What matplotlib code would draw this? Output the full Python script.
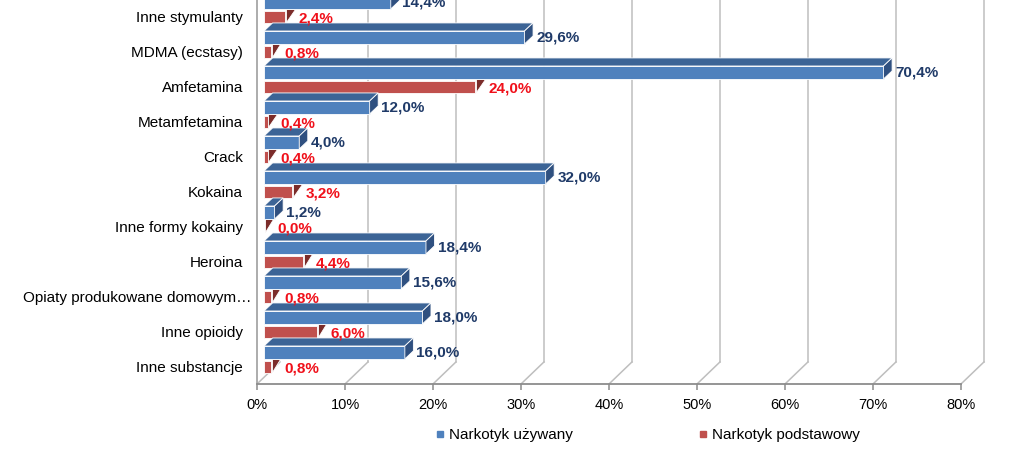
import matplotlib
matplotlib.use("Agg")
import matplotlib.pyplot as plt
from matplotlib.patches import Polygon
from matplotlib.lines import Line2D
from matplotlib.transforms import ScaledTranslation

plt.rcParams['font.family'] = ['Liberation Sans', 'DejaVu Sans']

# data, bottom to top
categories = ["Inne substancje", "Inne opioidy", "Opiaty produkowane domowym…",
              "Heroina", "Inne formy kokainy", "Kokaina", "Crack",
              "Metamfetamina", "Amfetamina", "MDMA (ecstasy)", "Inne stymulanty"]
used = [16.0, 18.0, 15.6, 18.4, 1.2, 32.0, 4.0, 12.0, 70.4, 29.6, 14.4]
primary = [0.8, 6.0, 0.8, 4.4, 0.0, 3.2, 0.4, 0.4, 24.0, 0.8, 2.4]
series_names = ["Narkotyk używany", "Narkotyk podstawowy"]
xticks = [0, 10, 20, 30, 40, 50, 60, 70, 80]

BLUE, BLUE_TOP, BLUE_SIDE = "#4F81BD", "#3C6496", "#2F5080"
RED, RED_SIDE = "#C0504D", "#7B2C2A"
BLUE_TXT, RED_TXT = "#1F3A68", "#F0101A"
GRID = "#BEBEBE"

# 3d look: wall depth and bar depth (x in %, y in category units)
WALL_DX, WALL_DY = 2.61, 0.63
BAR_DX, BAR_DY = 0.97, 0.23
X0 = 0.8          # bars sit a little inside the wall
Y_AXIS = -0.486

fig = plt.figure(figsize=(10.24, 4.65), dpi=100)
ax = fig.add_axes([257 / 1024, 81 / 465, 84 * 8.8 / 1024, 384 / 465])
ax.set_xlim(0, 84)
ax.set_ylim(Y_AXIS, Y_AXIS + 384 / 35)


def poly(pts, color, z):
    ax.add_patch(Polygon(pts, closed=True, facecolor=color, edgecolor="white",
                         linewidth=0.6, zorder=z))


# back wall and floor lines
for t in xticks:
    ax.plot([t, t + WALL_DX], [Y_AXIS, Y_AXIS + WALL_DY], color=GRID, lw=1.1, zorder=1)
    if t > 0:
        ax.plot([t + WALL_DX] * 2, [Y_AXIS + WALL_DY, 20], color=GRID, lw=1.1, zorder=1)

for i, (u, p) in enumerate(zip(used, primary)):
    # red bar (primary drug)
    y0, y1 = i - 0.17, i + 0.17
    x1 = X0 + p
    if p > 0:
        poly([(X0, y0), (x1, y0), (x1, y1), (X0, y1)], RED, 3)
    poly([(x1 + 0.1, y0 + 0.02), (x1 + 0.1, y1 + 0.05), (x1 + 0.1 + BAR_DX, y1 + 0.05)], RED_SIDE, 3)
    ax.text(x1 + 1.5, i - 0.04, f"{p:.1f}%".replace(".", ","), color=RED_TXT,
            fontsize=11, fontweight="bold", va="center", ha="left", zorder=6)

    # blue bar (used drug)
    b0, b1 = i + 0.23, i + 0.60
    x1 = X0 + u
    poly([(X0, b0), (x1, b0), (x1, b1), (X0, b1)], BLUE, 4)
    poly([(X0, b1), (x1, b1), (x1 + BAR_DX, b1 + BAR_DY), (X0 + BAR_DX, b1 + BAR_DY)], BLUE_TOP, 4)
    poly([(x1, b0), (x1 + BAR_DX, b0 + BAR_DY), (x1 + BAR_DX, b1 + BAR_DY), (x1, b1)], BLUE_SIDE, 4)
    ax.text(x1 + BAR_DX + 0.35, i + 0.41, f"{u:.1f}%".replace(".", ","), color=BLUE_TXT,
            fontsize=11, fontweight="bold", va="center", ha="left", zorder=6)

# axes
ax.set_yticks(range(len(categories)))
ax.set_yticklabels(categories, fontsize=11)
ax.tick_params(axis="y", length=0, pad=10)
# the truncated label runs up to the wall, as in the original
lbl = ax.get_yticklabels()[2]
lbl.set_transform(lbl.get_transform() + ScaledTranslation(8 / 100, 0, fig.dpi_scale_trans))
ax.set_xticks(xticks)
ax.set_xticklabels([f"{t}%" for t in xticks], fontsize=10.5)
ax.tick_params(axis="x", length=4, width=1.1, color="#8C8C8C", pad=6)
for s in ["top", "right"]:
    ax.spines[s].set_visible(False)
ax.spines["bottom"].set_bounds(0, 80)
ax.spines["bottom"].set_color("#8C8C8C")
ax.spines["bottom"].set_linewidth(1.3)
ax.spines["left"].set_color("#A6A6A6")
ax.spines["left"].set_linewidth(1.3)

handles = [Line2D([], [], marker="s", linestyle="", markersize=5, color=BLUE),
           Line2D([], [], marker="s", linestyle="", markersize=5, color=RED)]
fig.legend(handles, series_names, loc="center", bbox_to_anchor=(648 / 1024, 1 - 435 / 465),
           ncol=2, frameon=False, fontsize=11, handlelength=0.6, handletextpad=0.3,
           columnspacing=8.2)

fig.savefig("out.png", dpi=100)
